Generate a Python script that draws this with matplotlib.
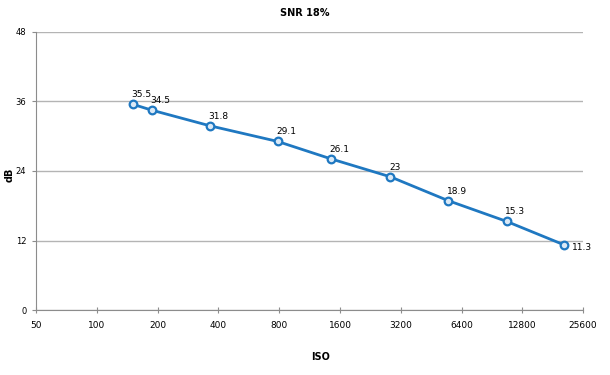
import numpy as np
import matplotlib

matplotlib.use('Agg')
import matplotlib.pyplot as plt

# Measured ISO values and SNR (dB) at 18% grey
iso = [151, 187, 363, 786, 1442, 2842, 5480, 10710, 20460]
snr = [35.5, 34.5, 31.8, 29.1, 26.1, 23, 18.9, 15.3, 11.3]
labels = ["35.5", "34.5", "31.8", "29.1", "26.1", "23", "18.9", "15.3", "11.3"]

x_ticks = [50, 100, 200, 400, 800, 1600, 3200, 6400, 12800, 25600]
y_ticks = [0, 12, 24, 36, 48]

BLUE = "#1f78c1"
GRID = "#b4b4b4"

fig = plt.figure(figsize=(6.1, 3.75), dpi=100)
ax = fig.add_axes([0.059, 0.173, 0.897, 0.742])

ax.plot(iso, snr, color=BLUE, lw=2, marker='o', ms=5.5,
        mfc="#dbe9f6", mec=BLUE, mew=1.6, zorder=3)

# data labels, the last one sits to the right of its point
for i in range(len(iso)):
    if i == len(iso) - 1:
        ax.annotate(labels[i], (iso[i], snr[i]), xytext=(6, -4),
                    textcoords='offset points', fontsize=6.5, ha='left')
    else:
        ax.annotate(labels[i], (iso[i], snr[i]), xytext=(-1, 5),
                    textcoords='offset points', fontsize=6.5, ha='left')

ax.set_xscale('log', base=2)
ax.set_xlim(50, 25600)
ax.set_xticks(x_ticks)
ax.set_xticklabels([str(v) for v in x_ticks])
ax.minorticks_off()
ax.set_ylim(0, 48)
ax.set_yticks(y_ticks)

ax.yaxis.grid(True, color=GRID, lw=1)
ax.set_axisbelow(True)
for s in ['top', 'right']:
    ax.spines[s].set_visible(False)
for s in ['left', 'bottom']:
    ax.spines[s].set_color("#8c8c8c")

ax.tick_params(axis='x', direction='inout', length=5, colors="#8c8c8c",
               labelcolor="black", labelsize=6.5, pad=5)
ax.tick_params(axis='y', direction='out', length=3, colors="#8c8c8c",
               labelcolor="black", labelsize=6, pad=4)

fig.text(0.5, 0.965, "SNR 18%", ha='center', va='center', fontsize=7, fontweight='bold')
fig.text(0.526, 0.048, "ISO", ha='center', va='center', fontsize=7, fontweight='bold')
fig.text(0.016, 0.535, "dB", ha='center', va='center', fontsize=7, fontweight='bold', rotation=90)

plt.savefig("out.png", dpi=100)
